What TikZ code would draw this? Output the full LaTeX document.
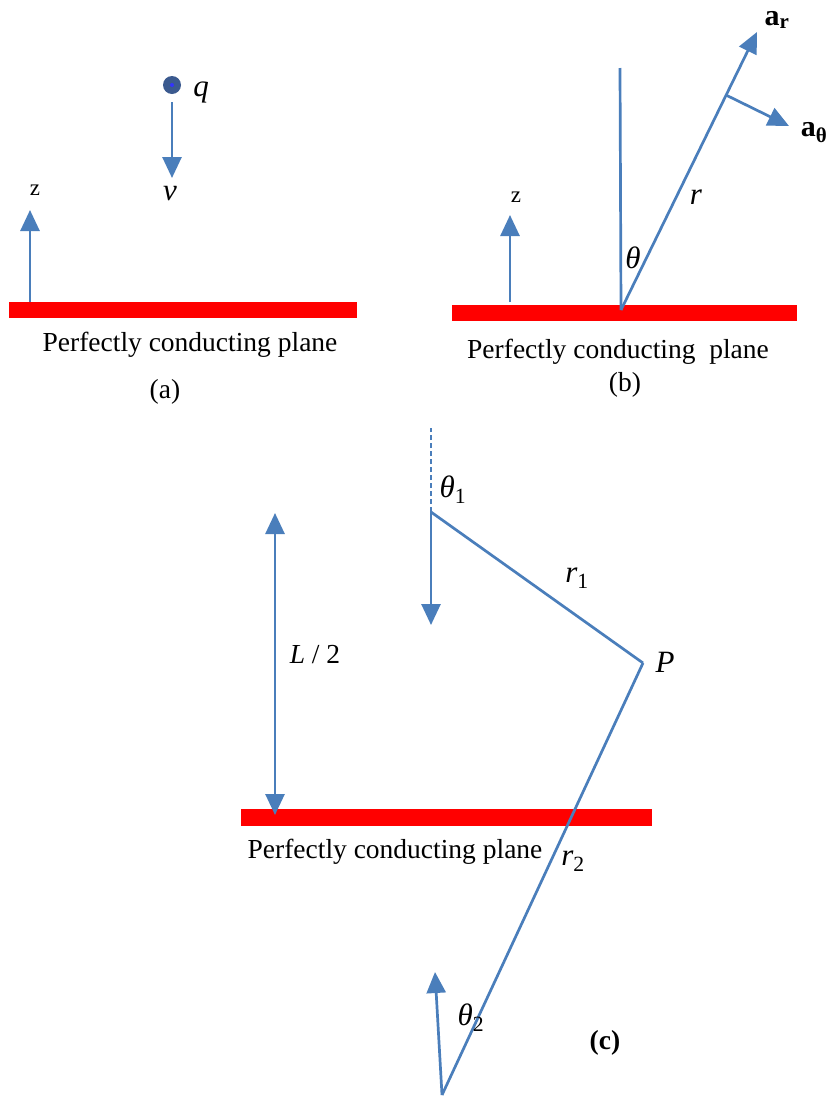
\documentclass[tikz,border=0pt]{standalone}
\usepackage{fontspec}
\setmainfont{Liberation Serif}
\usetikzlibrary{arrows.meta,calc}

\definecolor{vecblue}{HTML}{4A7EBB}
\definecolor{chargeblue}{HTML}{3B5A8F}

\begin{document}
\begin{tikzpicture}[
    x=1pt, y=-1pt,
    ln/.style={draw=vecblue, line width=2.7pt},
    vec/.style={ln, -{Triangle[length=21pt, width=19pt]}},
    dvec/.style={ln, {Triangle[length=21pt, width=19pt]}-{Triangle[length=21pt, width=19pt]}},
    plate/.style={fill=red, draw=none, inner sep=0pt},
    charge/.style={circle, fill=chargeblue, draw=none, minimum size=18pt, inner sep=0pt},
    lbl/.style={font=\fontsize{31}{34}\selectfont\itshape, inner sep=0pt},
    vlbl/.style={font=\fontsize{30}{34}\selectfont\bfseries, inner sep=0pt},
    caption/.style={font=\fontsize{27.5}{30}\selectfont, inner sep=0pt},
    axis/.style={font=\fontsize{23}{26}\selectfont, inner sep=0pt}
  ]
    \useasboundingbox (0,0) rectangle (826,1098);

    % (a) charge moving towards the plane
    \node[plate, minimum width=348pt, minimum height=16pt] (pa) at (183,310) {};
    \coordinate (za0) at (30,302);
    \coordinate (za1) at (30,210);
    \draw[vec] (za0) -- (za1);
    \node[axis] (za) at (35,190) {z};
    \node[charge] (q) at (172,85) {};
    \fill[blue!80] (q) circle (2pt);
    \node[lbl] (ql) at (201,92) {q};
    \coordinate (v1) at (172,178);
    \draw[vec, shorten <=8pt] (q.south) -- (v1);
    \node[lbl] (vl) at (170,194) {v};
    \node[caption] (ta) at (190,345) {Perfectly conducting plane};
    \node[caption] (la) at (165,392) {(a)};

    % (b) unit vectors
    \node[plate, minimum width=345pt, minimum height=16pt] (pb) at (624.5,313) {};
    \coordinate (zb0) at (510,302);
    \coordinate (zb1) at (510,215);
    \draw[vec] (zb0) -- (zb1);
    \node[axis] (zb) at (516,197) {z};
    \coordinate (o) at (621,310);
    \coordinate (top) at (620,68);
    \coordinate (ar) at (757,32);
    \coordinate (m) at ($(o)!0.773!(ar)$);
    \coordinate (ath) at (789,126);
    \draw[ln] (o) -- (top);
    \draw[vec] (o) -- (ar);
    \draw[vec] (m) -- (ath);
    \node[vlbl] (arl) at (777,20) {a\textsubscript{r}};
    \node[vlbl] (athl) at (814,133) {a\textsubscript{θ}};
    \node[lbl] (rl) at (696,197) {r};
    \node[lbl] (thl) at (633,258) {θ};
    \node[caption] (tb) at (618,352) {Perfectly conducting\ \ plane};
    \node[caption] (lb) at (625,385) {(b)};

    % (c) charge and its image
    \node[plate, minimum width=411pt, minimum height=17pt] (pc) at (446.5,817.5) {};
    \coordinate (d0) at (431,428);
    \coordinate (s1) at (431,512);
    \coordinate (s1e) at (431,625);
    \coordinate (P) at (643,663);
    \coordinate (s2) at (442,1095);
    \coordinate (s2e) at (435,972);
    \coordinate (h0) at (275,513);
    \coordinate (h1) at (275,815);
    \draw[ln, dash pattern=on 5pt off 3pt] (s1) -- (d0);
    \draw[vec] (s1) -- (s1e);
    \draw[ln] (s1) -- (P);
    \draw[ln] (P) -- (s2);
    \draw[vec] (s2) -- (s2e);
    \draw[dvec] (h0) -- (h1);
    \node[lbl] (th1) at (453,490) {θ\textsubscript{\upshape 1}};
    \node[lbl] (r1) at (577,578) {r\textsubscript{\upshape 1}};
    \node[lbl] (Pl) at (665,662) {P};
    \node[caption] (hl) at (315,655) {\textit{L} / 2};
    \node[lbl] (r2) at (573,861) {r\textsubscript{\upshape 2}};
    \node[lbl] (th2) at (471,1018) {θ\textsubscript{\upshape 2}};
    \node[caption] (tc) at (395,852) {Perfectly conducting plane};
    \node[caption, font=\fontsize{27.5}{30}\selectfont\bfseries] (lc) at (605,1043) {(c)};
\end{tikzpicture}
\end{document}
